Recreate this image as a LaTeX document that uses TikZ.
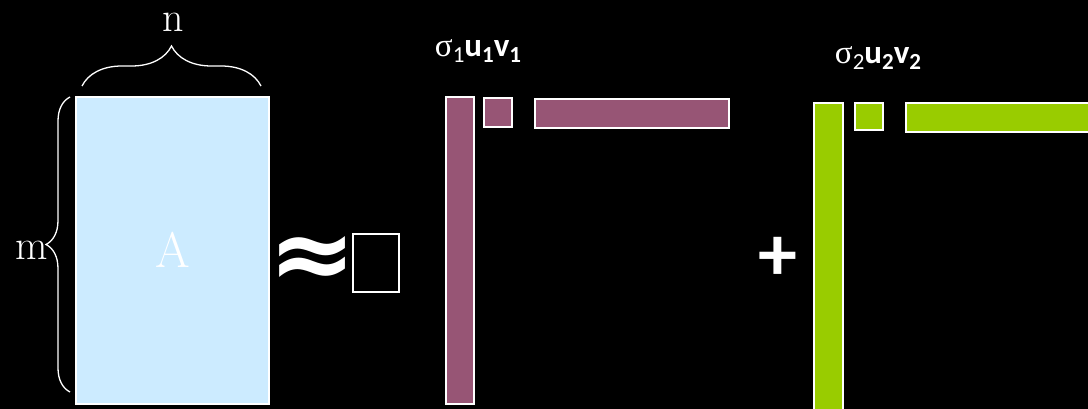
\documentclass[tikz,border=0pt]{standalone}
\usepackage{fontspec}
\usepackage{graphicx}
\newfontfamily\calib{Carlito}
\newfontfamily\serifsig{Liberation Serif}
\newfontfamily\djv{DejaVu Sans}
\usetikzlibrary{decorations.pathreplacing}
\definecolor{lblue}{HTML}{CCEBFF}
\definecolor{mauve}{HTML}{975575}
\definecolor{lime}{HTML}{99CC00}
\newcommand{\subn}[1]{\raisebox{-6pt}{\fontsize{23}{23}\selectfont #1}}
\newcommand{\svlabel}[1]{{\fontsize{33}{33}\selectfont\serifsig σ}\subn{#1}{\calib\bfseries u\subn{#1}v\subn{#1}}}
\begin{document}
\begin{tikzpicture}[x=1pt,y=-1pt,
  mat/.style={draw=white, line width=1.5pt, inner sep=0pt, outer sep=0pt, anchor=north west},
  brc/.style={draw=white, line width=1.3pt, decorate, decoration={brace, amplitude=#1}},
  txt/.style={text=white, inner sep=0pt},
  lbl/.style={text=white, inner sep=0pt, anchor=base, font=\calib\fontsize{33}{33}\selectfont}]
\fill[black] (0,0) rectangle (1088,409);
\useasboundingbox (0,0) rectangle (1088,409);
% matrix A
\node[mat, fill=lblue, minimum width=193pt, minimum height=307pt] (A) at (76,97) {};
\node[txt, anchor=base, font=\fontsize{50}{50}\selectfont] (Alab) at (173,267) {A};
\coordinate (nL) at (82,86);
\coordinate (nR) at (261,86);
\draw[brc=40pt] (nL) -- (nR);
\node[txt, anchor=base, font=\fontsize{42}{42}\selectfont] (n) at (173,32) {n};
\coordinate (mB) at (70,392);
\coordinate (mT) at (70,97);
\draw[brc=24pt] (mB) -- (mT);
\node[txt, anchor=base, font=\fontsize{42}{42}\selectfont] (m) at (32,259) {m};
% approx
\node[txt] (approx) at (313,262) {\resizebox{88pt}{52pt}{\djv\bfseries ≈}};
\node[mat, minimum width=46pt, minimum height=58pt] (box) at (353,234) {};
% first term
\node[mat, fill=mauve, minimum width=28pt, minimum height=307pt] (u1) at (446,97) {};
\node[mat, fill=mauve, minimum width=28pt, minimum height=29pt] (s1) at (484,98) {};
\node[mat, fill=mauve, minimum width=194pt, minimum height=29pt] (v1) at (535,99) {};
\node[lbl] (lab1) at (478,57) {\svlabel{1}};
% plus
\node[txt, font=\calib\bfseries\fontsize{78}{78}\selectfont] (plus) at (778,259) {+};
% second term
\node[mat, fill=lime, minimum width=29pt, minimum height=320pt] (u2) at (814,103) {};
\node[mat, fill=lime, minimum width=28pt, minimum height=27pt] (s2) at (855,103) {};
\node[mat, fill=lime, minimum width=200pt, minimum height=29pt] (v2) at (906,103) {};
\node[lbl] (lab2) at (878,64) {\svlabel{2}};
\end{tikzpicture}
\end{document}
